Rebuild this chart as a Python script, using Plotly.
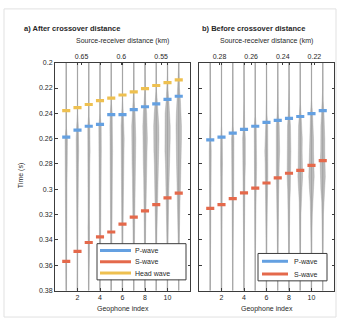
import numpy as np
import plotly.graph_objects as go

W, H = 339, 322

geophones = list(range(1, 12))
times = [0.20, 0.21, 0.22, 0.23, 0.24, 0.25, 0.26, 0.27, 0.28, 0.29,
         0.30, 0.31, 0.32, 0.33, 0.34, 0.35, 0.36, 0.37, 0.38]

# picked arrival times (s)
left_p = [0.2587, 0.2533, 0.2502, 0.2487, 0.2410, 0.2410, 0.2371, 0.2348, 0.2325, 0.2290, 0.2265]
left_s = [0.3569, 0.3490, 0.3420, 0.3376, 0.3337, 0.3275, 0.3220, 0.3170, 0.3120, 0.3067, 0.3030]
left_head = [0.2379, 0.2355, 0.2330, 0.2300, 0.2280, 0.2255, 0.2230, 0.2205, 0.2180, 0.2157, 0.2135]
right_p = [0.2610, 0.2587, 0.2556, 0.2526, 0.2502, 0.2471, 0.2456, 0.2440, 0.2425, 0.2402, 0.2379]
right_s = [0.3151, 0.3120, 0.3074, 0.3028, 0.2990, 0.2950, 0.2910, 0.2873, 0.2850, 0.2811, 0.2773]

# source-receiver distance of each geophone (km)
left_dist_km = [0.669, 0.655, 0.641, 0.627, 0.613, 0.599, 0.584, 0.570, 0.556, 0.542, 0.528]
right_dist_km = [0.286, 0.279, 0.272, 0.264, 0.257, 0.250, 0.243, 0.236, 0.229, 0.222, 0.215]

y_ticks = [0.2, 0.22, 0.24, 0.26, 0.28, 0.3, 0.32, 0.34, 0.36, 0.38]
y_ticktext = ["0.2", "0.22", "0.24", "0.26", "0.28", "0.3", "0.32", "0.34", "0.36", "0.38"]
x_ticks = [2, 4, 6, 8, 10]
left_top_ticks = [0.65, 0.6, 0.55]
right_top_ticks = [0.28, 0.26, 0.24, 0.22]

# trace envelope half-widths (geophone-index units) at the sample times
left_env = [
    [0, 0, 0, 0, 0, 0, 0.18, 0.22, 0.15, 0.12, 0.12, 0.10, 0.10, 0.08, 0.10, 0.08, 0.06, 0.05, 0.04],
    [0, 0, 0, 0, 0, 0.12, 0.20, 0.18, 0.14, 0.12, 0.10, 0.10, 0.10, 0.12, 0.12, 0.08, 0.06, 0.05, 0.04],
    [0, 0, 0, 0, 0, 0.15, 0.20, 0.20, 0.15, 0.12, 0.12, 0.10, 0.10, 0.12, 0.15, 0.10, 0.06, 0.05, 0.04],
    [0, 0, 0, 0, 0, 0.18, 0.22, 0.20, 0.18, 0.15, 0.12, 0.12, 0.12, 0.12, 0.10, 0.08, 0.06, 0.05, 0.04],
    [0, 0, 0, 0, 0.15, 0.20, 0.22, 0.20, 0.18, 0.15, 0.14, 0.12, 0.15, 0.12, 0.10, 0.08, 0.06, 0.05, 0.04],
    [0, 0, 0, 0, 0.12, 0.22, 0.25, 0.22, 0.20, 0.18, 0.15, 0.15, 0.18, 0.12, 0.10, 0.08, 0.06, 0.05, 0.04],
    [0, 0, 0, 0.05, 0.20, 0.30, 0.30, 0.28, 0.25, 0.20, 0.15, 0.15, 0.15, 0.10, 0.08, 0.06, 0.05, 0.04, 0.03],
    [0, 0, 0, 0.10, 0.25, 0.32, 0.35, 0.30, 0.25, 0.20, 0.18, 0.18, 0.12, 0.10, 0.08, 0.06, 0.05, 0.04, 0.03],
    [0, 0, 0, 0.15, 0.30, 0.38, 0.40, 0.35, 0.28, 0.22, 0.20, 0.15, 0.12, 0.10, 0.08, 0.06, 0.05, 0.04, 0.03],
    [0, 0, 0.05, 0.20, 0.35, 0.40, 0.40, 0.38, 0.30, 0.25, 0.20, 0.15, 0.12, 0.10, 0.08, 0.06, 0.05, 0.04, 0.03],
    [0, 0, 0.10, 0.25, 0.35, 0.40, 0.40, 0.38, 0.32, 0.28, 0.25, 0.18, 0.12, 0.10, 0.08, 0.06, 0.05, 0.04, 0.03],
]
right_env = [
    [0, 0, 0, 0, 0, 0, 0.10, 0.15, 0.12, 0.10, 0.10, 0.12, 0.10, 0.08, 0.06, 0.05, 0.04, 0.03, 0.03],
    [0, 0, 0, 0, 0, 0, 0.12, 0.18, 0.15, 0.12, 0.12, 0.12, 0.10, 0.08, 0.06, 0.05, 0.04, 0.03, 0.03],
    [0, 0, 0, 0, 0, 0.05, 0.18, 0.20, 0.18, 0.15, 0.15, 0.12, 0.10, 0.08, 0.06, 0.05, 0.04, 0.03, 0.03],
    [0, 0, 0, 0, 0, 0.10, 0.20, 0.22, 0.20, 0.15, 0.18, 0.12, 0.10, 0.08, 0.06, 0.05, 0.04, 0.03, 0.03],
    [0, 0, 0, 0, 0, 0.15, 0.20, 0.22, 0.20, 0.18, 0.20, 0.12, 0.10, 0.08, 0.06, 0.05, 0.04, 0.03, 0.03],
    [0, 0, 0, 0, 0.05, 0.18, 0.22, 0.25, 0.20, 0.20, 0.20, 0.12, 0.10, 0.08, 0.06, 0.05, 0.04, 0.03, 0.03],
    [0, 0, 0, 0, 0.08, 0.22, 0.28, 0.28, 0.22, 0.22, 0.18, 0.12, 0.10, 0.08, 0.06, 0.05, 0.04, 0.03, 0.03],
    [0, 0, 0, 0, 0.10, 0.22, 0.28, 0.28, 0.25, 0.28, 0.20, 0.12, 0.10, 0.08, 0.06, 0.05, 0.04, 0.03, 0.03],
    [0, 0, 0, 0, 0.12, 0.25, 0.30, 0.28, 0.30, 0.35, 0.25, 0.15, 0.10, 0.08, 0.06, 0.05, 0.04, 0.03, 0.03],
    [0, 0, 0, 0, 0.15, 0.25, 0.30, 0.30, 0.35, 0.40, 0.30, 0.18, 0.12, 0.08, 0.06, 0.05, 0.04, 0.03, 0.03],
    [0, 0, 0, 0.05, 0.18, 0.28, 0.30, 0.30, 0.38, 0.38, 0.28, 0.15, 0.10, 0.08, 0.06, 0.05, 0.04, 0.03, 0.03],
]

C_P = "rgb(100,160,225)"
C_S = "rgb(228,105,75)"
C_H = "rgb(238,192,80)"
FONT = "Liberation Sans"
TXT = "rgb(40,40,40)"
ENV_SCALE = 0.6


def px(x):
    return x / W


def py(y):
    return 1 - y / H


fig = go.Figure()


def add_traces(env, xa, ya):
    for g, w in zip(geophones, env):
        w = np.asarray(w) * ENV_SCALE
        xs = np.concatenate([g + w, (g - w)[::-1]])
        ys = np.concatenate([times, times[::-1]])
        fig.add_trace(go.Scatter(x=xs, y=ys, fill="toself", mode="lines",
                                 line=dict(width=0.5, color="rgba(120,120,120,0.5)"),
                                 fillcolor="rgba(110,110,110,0.45)",
                                 xaxis=xa, yaxis=ya, showlegend=False, hoverinfo="skip"))
        fig.add_trace(go.Scatter(x=[g, g], y=[times[0], times[-1]], mode="lines",
                                 line=dict(color="rgb(165,165,165)", width=1.2),
                                 xaxis=xa, yaxis=ya, showlegend=False, hoverinfo="skip"))


def add_picks(vals, color, xa, ya):
    xs, ys = [], []
    for g, t in zip(geophones, vals):
        xs += [g - 0.36, g + 0.36, None]
        ys += [t, t, None]
    fig.add_trace(go.Scatter(x=xs, y=ys, mode="lines", line=dict(color=color, width=3.2),
                             xaxis=xa, yaxis=ya, showlegend=False, hoverinfo="skip"))


add_traces(left_env, "x", "y")
add_traces(right_env, "x2", "y2")
add_picks(left_head, C_H, "x", "y")
add_picks(left_p, C_P, "x", "y")
add_picks(left_s, C_S, "x", "y")
add_picks(right_p, C_P, "x2", "y2")
add_picks(right_s, C_S, "x2", "y2")

# invisible traces carrying the distance axes
fig.add_trace(go.Scatter(x=left_dist_km, y=left_p, xaxis="x3", yaxis="y", mode="markers",
                         marker=dict(opacity=0), showlegend=False, hoverinfo="skip"))
fig.add_trace(go.Scatter(x=right_dist_km, y=right_p, xaxis="x4", yaxis="y2", mode="markers",
                         marker=dict(opacity=0), showlegend=False, hoverinfo="skip"))


def dist_range(d):
    # distance axis range from a linear fit of distance vs geophone index
    a, b = np.polyfit(geophones, d, 1)
    return [b, b + a * 12]


xl = [px(55), px(190)]
xr = [px(199), px(334)]
yd = [py(293), py(60)]

axis_common = dict(showline=True, linecolor="rgb(60,60,60)", linewidth=1, ticks="inside",
                   ticklen=2.5, tickcolor="rgb(60,60,60)", showgrid=False, zeroline=False,
                   tickfont=dict(family=FONT, size=7, color=TXT))

fig.update_layout(
    width=W, height=H, margin=dict(l=0, r=0, t=0, b=0),
    paper_bgcolor="white", plot_bgcolor="white", showlegend=False,
    xaxis=dict(domain=xl, range=[0, 12], tickvals=x_ticks, anchor="y", mirror="ticks", **axis_common),
    xaxis2=dict(domain=xr, range=[0, 12], tickvals=x_ticks, anchor="y2", mirror="ticks", **axis_common),
    xaxis3=dict(overlaying="x", side="top", anchor="y", range=dist_range(left_dist_km),
                tickvals=left_top_ticks, ticktext=["0.65", "0.6", "0.55"], **axis_common),
    xaxis4=dict(overlaying="x2", side="top", anchor="y2", range=dist_range(right_dist_km),
                tickvals=right_top_ticks, ticktext=["0.28", "0.26", "0.24", "0.22"], **axis_common),
    yaxis=dict(domain=yd, range=[0.38, 0.2], tickvals=y_ticks, ticktext=y_ticktext, anchor="x",
               mirror="ticks", **axis_common),
    yaxis2=dict(domain=yd, range=[0.38, 0.2], tickvals=y_ticks, showticklabels=False, anchor="x2",
                mirror="ticks", **axis_common),
)

ann = []


def text(x, y, s, size=7, bold=False, xanchor="center", angle=0):
    ann.append(dict(x=px(x), y=py(y), xref="paper", yref="paper", text=("<b>%s</b>" % s) if bold else s,
                    showarrow=False, xanchor=xanchor, yanchor="middle", textangle=angle,
                    font=dict(family=FONT, size=size, color=TXT)))


text(22, 25, "a) After crossover distance", size=7.5, bold=True, xanchor="left")
text(200, 25, "b) Before crossover distance", size=7.5, bold=True, xanchor="left")
text(122.5, 38, "Source-receiver distance (km)")
text(266.5, 38, "Source-receiver distance (km)")
text(122.5, 312, "Geophone index")
text(266.5, 312, "Geophone index")
text(21, 176, "Time (s)", angle=-90)

shapes = []
shapes.append(dict(type="rect", xref="paper", yref="paper", x0=px(4), y0=py(5), x1=px(336), y1=py(320),
                   line=dict(color="rgb(225,225,225)", width=1)))


def legend(x0, y0, x1, y1, entries, lx0, lx1, tx, ys):
    shapes.append(dict(type="rect", xref="paper", yref="paper", x0=px(x0), y0=py(y0), x1=px(x1), y1=py(y1),
                       line=dict(color="rgb(60,60,60)", width=1), fillcolor="white", layer="above"))
    for (name, col), yy in zip(entries, ys):
        shapes.append(dict(type="line", xref="paper", yref="paper", x0=px(lx0), x1=px(lx1), y0=py(yy), y1=py(yy),
                           line=dict(color=col, width=3), layer="above"))
        text(tx, yy, name, xanchor="left")


legend(97, 245, 186, 282, [("P-wave", C_P), ("S-wave", C_S), ("Head wave", C_H)], 100, 131, 133, [252, 263.5, 275])
legend(258, 255, 327, 283, [("P-wave", C_P), ("S-wave", C_S)], 262, 288, 292, [263, 276])

fig.update_layout(annotations=ann, shapes=shapes)
fig.write_html("out.html", config={"displayModeBar": False},
               post_script="document.body.style.margin='0';document.body.style.overflow='hidden';")
